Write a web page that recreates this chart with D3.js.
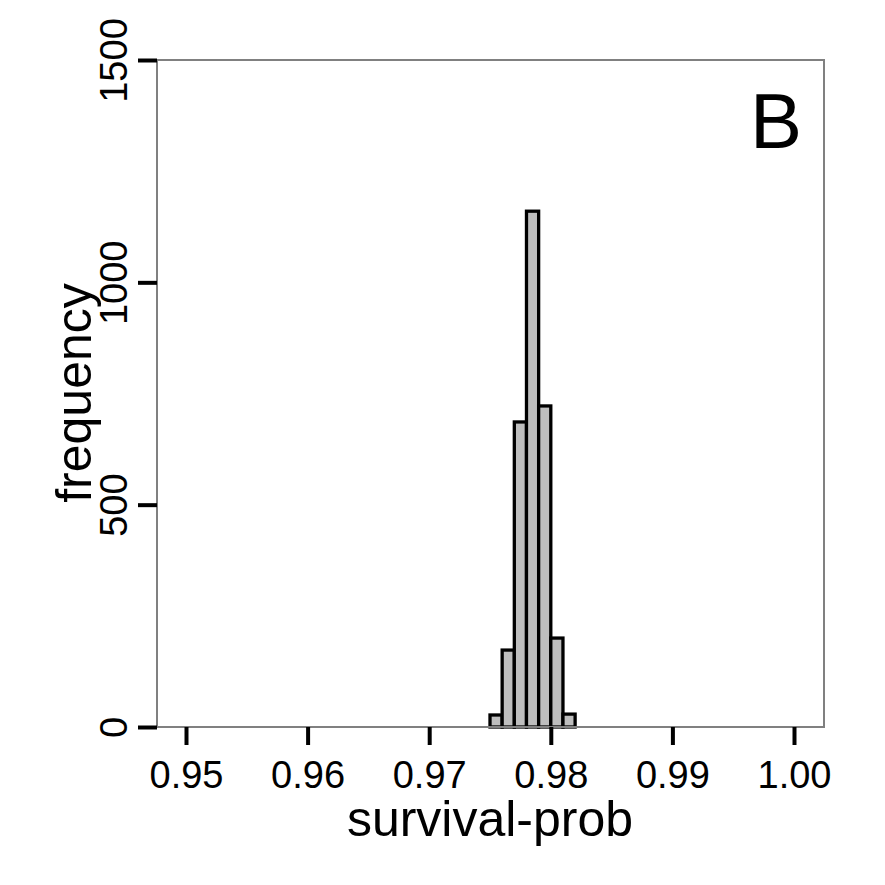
<!DOCTYPE html>
<html><head><meta charset="utf-8">
<script src="https://cdn.jsdelivr.net/npm/d3@7/dist/d3.min.js"></script>
<style>body{margin:0;background:#fff}svg{display:block}text{font-family:"Liberation Sans",Arial,sans-serif}</style>
</head><body>
<script>
const binStarts = [0.975, 0.976, 0.977, 0.978, 0.979, 0.980, 0.981];
const binWidth = 0.001;
const counts = [27, 173, 686, 1160, 722, 200, 29];
const xTicks = [0.95, 0.96, 0.97, 0.98, 0.99, 1.00];
const yTicks = [0, 500, 1000, 1500];
const panelLabel = "B";
const xTitle = "survival-prob";
const yTitle = "frequency";

const W = 885, H = 885;
const L = 157, R = 824, T = 60, B = 727;
const svg = d3.select("body").append("svg").attr("width", W).attr("height", H);

const x = d3.scaleLinear().domain([0.95, 1.00]).range([186, 794]);
const y = d3.scaleLinear().domain([0, 1500]).range([B, T]);

// bars
svg.append("g").selectAll("rect").data(binStarts).join("rect")
  .attr("x", (d) => x(d))
  .attr("width", (d) => x(d + binWidth) - x(d))
  .attr("y", (d, i) => y(counts[i]))
  .attr("height", (d, i) => y(0) - y(counts[i]))
  .attr("fill", "#bebebe").attr("stroke", "#000").attr("stroke-width", 3.3);

// box
svg.append("rect").attr("x", L).attr("y", T).attr("width", R - L).attr("height", B - T)
  .attr("fill", "none").attr("stroke", "#808080").attr("stroke-width", 2);

// x axis
const xa = svg.append("g").attr("transform", `translate(0,${B})`)
  .call(d3.axisBottom(x).tickValues(xTicks).tickFormat(d3.format(".2f")).tickSize(18).tickPadding(16));
xa.select(".domain").remove();
xa.selectAll("line").attr("stroke", "#000").attr("stroke-width", 4);
xa.selectAll("text").attr("font-size", 38).attr("fill", "#000")
  .attr("font-family", "'Liberation Sans', Arial, sans-serif");

// y axis
const ya = svg.append("g").attr("transform", `translate(${L},0)`)
  .call(d3.axisLeft(y).tickValues(yTicks).tickFormat(d3.format("d")).tickSize(19).tickPadding(0));
ya.select(".domain").remove();
ya.selectAll("line").attr("stroke", "#000").attr("stroke-width", 4);
ya.selectAll("text").attr("font-size", 38).attr("fill", "#000")
  .attr("font-family", "'Liberation Sans', Arial, sans-serif")
  .attr("x", null).attr("dy", null)
  .attr("text-anchor", "middle")
  .attr("transform", "translate(-30,0) rotate(-90)");

// titles
svg.append("text").attr("x", 490).attr("y", 836).attr("text-anchor", "middle")
  .attr("font-size", 50).text(xTitle);
svg.append("text").attr("transform", "translate(91,393) rotate(-90)").attr("text-anchor", "middle")
  .attr("font-size", 50).text(yTitle);
svg.append("text").attr("x", 802).attr("y", 148).attr("text-anchor", "end")
  .attr("font-size", 78).text(panelLabel);
</script>
</body></html>
